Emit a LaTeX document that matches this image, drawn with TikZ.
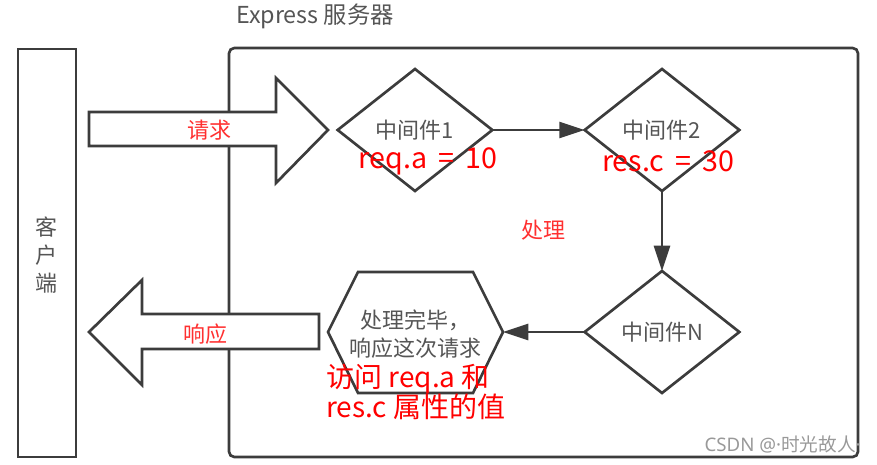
\documentclass[tikz,border=0pt]{standalone}
\usepackage{fontspec}
\newfontfamily\cjk{Noto Sans CJK SC}
\newfontfamily\lat{Noto Sans}
\usetikzlibrary{shapes.geometric,arrows.meta}
\definecolor{lc}{HTML}{3C3C3C}
\definecolor{gt}{HTML}{555555}
\definecolor{lr}{HTML}{FF3030}
\definecolor{wm}{HTML}{999999}
\newcommand{\wsp}{\hspace{0.38em}}
\begin{document}
\begin{tikzpicture}[x=0.75pt,y=-0.75pt,
  line/.style={draw=lc, line width=2pt, line join=miter},
  gtext/.style={text=gt, font=\cjk\fontsize{16.5}{21}\selectfont, inner sep=0pt},
  ltext/.style={text=lr, font=\cjk\fontsize{16.5}{21}\selectfont, inner sep=0pt},
  rtext/.style={text=red, font=\cjk\fontsize{21.5}{23}\selectfont, inner sep=0pt},
  mw/.style={diamond, draw=lc, line width=2pt, fill=white, minimum width=116pt, minimum height=91.5pt, inner sep=0pt, outer sep=0pt, text=gt, font=\cjk\fontsize{16.5}{21}\selectfont},
  conn/.style={draw=lc, line width=2pt, -{Triangle[length=19pt,width=12pt]}}]
\useasboundingbox (0,0) rectangle (877,464);
% title
\node[gtext, font=\cjk\fontsize{17.5}{21}\selectfont] (title) at (315,16) {Express 服务器};
% client
\draw[line] (18,49) rectangle (76,457);
\node[gtext, align=center] (client) at (47,255) {客\\户\\端};
% server
\draw[line, rounded corners=4pt] (229,48) rectangle (858,457);
% request arrow
\draw[line, fill=white] (89,112) -- (276,112) -- (276,78) -- (328,130) -- (276,183) -- (276,146) -- (89,146) -- cycle;
\node[ltext] (req) at (209,130) {请求};
% response arrow
\draw[line, fill=white] (319,314) -- (142,314) -- (142,280) -- (89,332) -- (142,385) -- (142,349) -- (319,349) -- cycle;
\node[ltext] (res) at (205,334) {响应};
% diamonds
\node[mw] (m1) at (415,130) {中间件1};
\node[mw] (m2) at (662,130) {中间件2};
\node[mw] (mn) at (662,332) {中间件N};
% hexagon
\coordinate (hexR) at (503,332);
\draw[line] (328,332) -- (358,272) -- (473,272) -- (hexR) -- (473,393) -- (358,393) -- cycle;
\node[gtext, align=center] (done) at (415,334) {处理完毕，\\响应这次请求};
% connectors
\draw[conn] (m1.east) -- (m2.west);
\draw[conn] (m2.south) -- (mn.north);
\draw[conn] (mn.west) -- (hexR);
% red labels
\node[rtext] (ra) at (428,161) {req.a\wsp=\wsp10};
\node[rtext] (rc) at (668,161) {res.c\wsp=\wsp30};
\node[ltext] (proc) at (543,230) {处理};
\node[rtext, font=\cjk\fontsize{21}{23}\selectfont, align=left, anchor=west] (acc) at (326,392) {访问 req.a 和\\res.c 属性的值};
% watermark
\node[text=wm, font=\lat\fontsize{14}{16}\selectfont, inner sep=0pt, anchor=east] (wmk) at (861,444) {CSDN @·{\cjk 时光故人}·};
\end{tikzpicture}
\end{document}
